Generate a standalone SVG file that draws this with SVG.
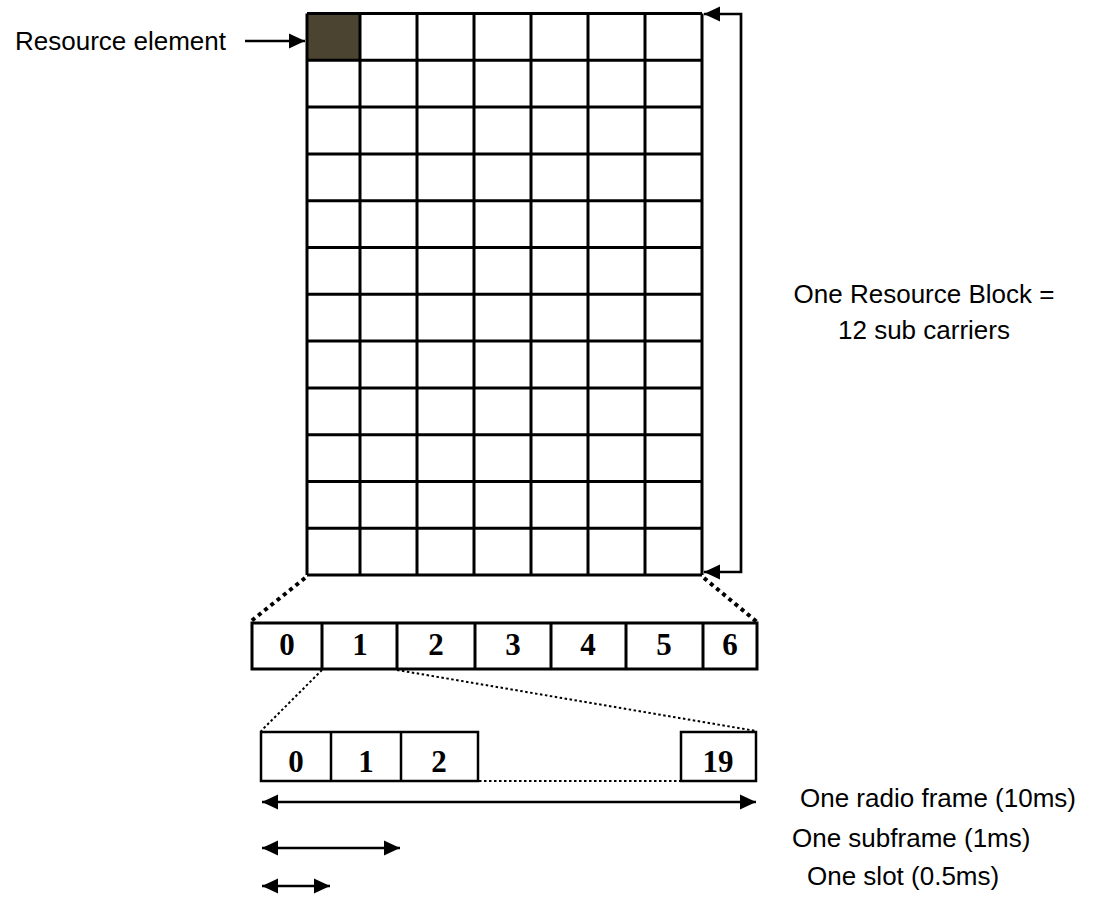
<svg xmlns="http://www.w3.org/2000/svg" width="1096" height="897" viewBox="0 0 1096 897">
<style>
.lbl{font-family:"Liberation Sans",Arial,sans-serif;font-size:26px;fill:#000}
.num{font-family:"Liberation Serif","Times New Roman",serif;font-size:31px;font-weight:bold;fill:#000;text-anchor:middle}
.grid{fill:none;stroke:#000;stroke-width:3}
.box{fill:#fff;stroke:#000;stroke-width:3}
.box2{fill:#fff;stroke:#000;stroke-width:2.5}
.arr{fill:none;stroke:#000;stroke-width:2.7}
.dotb{fill:none;stroke:#000;stroke-width:4;stroke-dasharray:4 4}
.dott{fill:none;stroke:#000;stroke-width:2;stroke-dasharray:2.5 2.5}
</style>
<defs>
<marker id="ah" markerUnits="userSpaceOnUse" markerWidth="17" markerHeight="17" viewBox="0 0 17 17" refX="16" refY="8.5" orient="auto-start-reverse">
<path d="M0,1 L16,8.5 L0,16 Z" fill="#000"/>
</marker>
</defs>
<rect width="1096" height="897" fill="#fff"/>
<g id="resource-grid">
<rect x="307" y="13.5" width="53" height="46.8" fill="#4B4431"/>
<path class="grid" d="M307,13.5H702M307,60.3H702M307,107.1H702M307,153.9H702M307,200.7H702M307,247.5H702M307,294.3H702M307,341.1H702M307,387.9H702M307,434.7H702M307,481.5H702M307,528.3H702M307,575.1H702M307,13.5V575.1M360,13.5V575.1M417,13.5V575.1M474,13.5V575.1M531,13.5V575.1M588,13.5V575.1M645,13.5V575.1M702,13.5V575.1"/>
</g>
<g id="resource-element-label">
<text class="lbl" x="15" y="50">Resource element</text>
</g>
<g id="rb-label">
<text class="lbl" x="924" y="303" text-anchor="middle">One Resource Block =</text>
<text class="lbl" x="924" y="339" text-anchor="middle">12 sub carriers</text>
</g>
<g id="symbols-row">
<rect class="box" x="252" y="623" width="505" height="46"/>
<path class="grid" d="M322,623V669M397,623V669M475,623V669M551,623V669M626,623V669M703,623V669"/>
<text class="num" x="287" y="655">0</text>
<text class="num" x="360" y="655">1</text>
<text class="num" x="436" y="655">2</text>
<text class="num" x="513" y="655">3</text>
<text class="num" x="588" y="655">4</text>
<text class="num" x="664" y="655">5</text>
<text class="num" x="730" y="655">6</text>
</g>
<g id="slots-row">
<rect class="box2" x="261" y="732" width="217" height="49"/>
<path class="box2" d="M331,732V781M401,732V781"/>
<rect class="box2" x="681" y="732" width="75" height="49"/>
<text class="num" x="296" y="772">0</text>
<text class="num" x="366" y="772">1</text>
<text class="num" x="439" y="772">2</text>
<text class="num" x="718" y="772">19</text>
</g>
<g id="time-labels">
<text class="lbl" x="800" y="807">One radio frame (10ms)</text>
<text class="lbl" x="792" y="847">One subframe (1ms)</text>
<text class="lbl" x="807" y="885">One slot (0.5ms)</text>
</g>
<g id="connectors">
<line class="arr" x1="245" y1="41" x2="305" y2="41" marker-end="url(#ah)"/>
<polyline class="arr" points="704,14 741,14 741,572 704,572" marker-start="url(#ah)" marker-end="url(#ah)"/>
<line class="dotb" x1="305" y1="578" x2="250" y2="622"/>
<line class="dotb" x1="704" y1="578" x2="757" y2="622"/>
<line class="dott" x1="322" y1="670" x2="261" y2="731"/>
<line class="dott" x1="397" y1="670" x2="756" y2="731"/>
<line class="dott" x1="479" y1="781" x2="681" y2="781"/>
<line class="arr" x1="262" y1="802" x2="756" y2="802" marker-start="url(#ah)" marker-end="url(#ah)"/>
<line class="arr" x1="262" y1="848" x2="400" y2="848" marker-start="url(#ah)" marker-end="url(#ah)"/>
<line class="arr" x1="262" y1="886" x2="330" y2="886" marker-start="url(#ah)" marker-end="url(#ah)"/>
</g>
</svg>
